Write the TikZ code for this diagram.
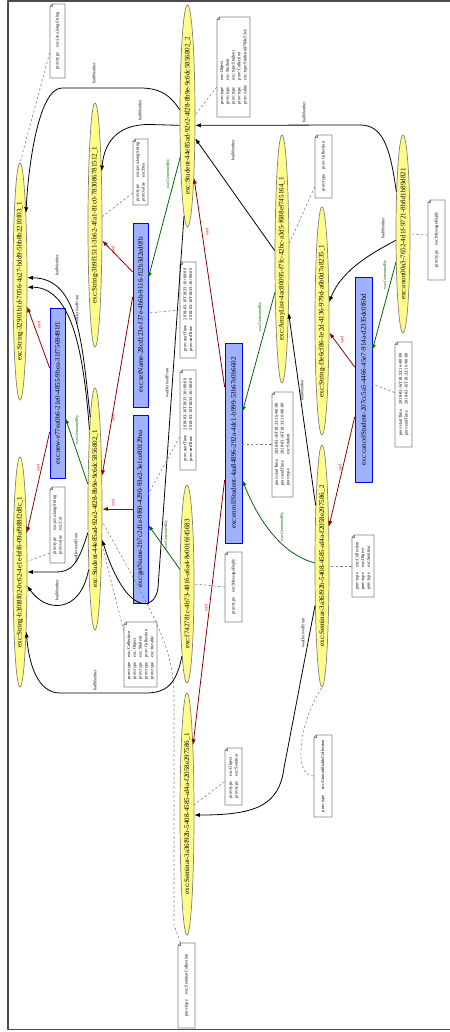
\documentclass[tikz,border=0pt]{standalone}
\usepackage{fontspec}
\setmainfont{Liberation Serif}
\usetikzlibrary{arrows.meta,calc,shapes.geometric,shapes.misc}

\definecolor{entfill}{HTML}{FFFC87}
\definecolor{actfill}{HTML}{9FB1FC}
\definecolor{usedcol}{HTML}{8B0000}
\definecolor{gencol}{HTML}{006400}

% rotated text, kept out of the node size
\newcommand{\vlab}[1]{\rotatebox{90}{\makebox[0pt]{#1}}}
\newcommand{\vnote}[1]{\rotatebox{90}{\makebox[0pt]{\begin{tabular}{@{}l@{\hspace{3pt}}l@{}}#1\end{tabular}}}}
\newcommand{\tstamp}{2018-03-16T18:33:16+00:00}

\begin{document}
\begin{tikzpicture}[x=0.02cm,y=-0.02cm,line join=round,
  sz/.style 2 args={minimum width=#1*0.02cm,minimum height=#2*0.02cm},
  ent/.style={ellipse,draw=gray,fill=entfill,inner sep=0pt,font=\fontsize{4}{5}\selectfont},
  act/.style={rectangle,draw=blue,fill=actfill,inner sep=0pt,font=\fontsize{4}{5}\selectfont},
  note/.style={chamfered rectangle,chamfered rectangle corners=north west,
    chamfered rectangle sep=1.4pt,draw=gray,fill=white,inner sep=0pt,
    font=\fontsize{2.5}{3.3}\selectfont},
  mem/.style={draw=black,line width=0.45pt,-{Latex[length=3.2pt,width=2.4pt]}},
  usd/.style={mem,draw=usedcol},
  gen/.style={mem,draw=gencol},
  ann/.style={draw=gray,line width=0.35pt,dash pattern=on 1.3pt off 1.3pt},
  lbl/.style={rotate=90,inner sep=0pt,font=\fontsize{2.4}{3}\selectfont},
  lu/.style={lbl,text=red},
  lg/.style={lbl,text=gencol}]
  \useasboundingbox (0,0) rectangle (450,1032);
  \draw[gray!60!black,line width=0.9pt] (8,0.8) rectangle (470,1029.5);

  % entities
  \node[ent,sz={14}{237}] (E1) at (20,281.5) {\vlab{exc:String-32901b1d-7056-4a27-bdd9-5bb8b2210f03\_1}};
  \node[ent,sz={14}{230}] (E2) at (20,572) {\vlab{exc:String-b3f08f02-0c62-4e1e-bff6-09af988f2d8c\_1}};
  \node[ent,sz={14}{244}] (E3) at (95,225) {\vlab{exc:String-3b9f1511-3b62-4fa1-81c0-783086781512\_1}};
  \node[ent,sz={14}{242}] (E4) at (95,509) {\vlab{exc:Student-44e85ad-92e2-4f28-8b9e-9c6dc5856802\_1}};
  \node[ent,sz={15}{222}] (E5) at (187.5,116) {\vlab{exc:Student-44e85ad-92e2-4f28-8b9e-9c6dc5856802\_2}};
  \node[ent,sz={14}{248}] (E6) at (282,259) {\vlab{exc:ArrayList-4ac80095-f7fc-42bc-a3d5-f688ef745164\_1}};
  \node[ent,sz={14}{198}] (E7) at (403,234) {\vlab{exc:anon00a3-7652-4d1f-9721-8b8d1b89d821}};
  \node[ent,sz={14}{228}] (E8) at (322,321) {\vlab{exc:String-f3e6cf86-1e2d-4136-979d-a6b0d7a8235\_1}};
  \node[ent,sz={14}{242}] (E9) at (322,566) {\vlab{exc:Seminar-3a36f92b-5408-4585-af4a-f2058e297586\_2}};
  \node[ent,sz={14}{198}] (E10) at (187,584) {\vlab{exc:f742781c-4b73-4816-a6a4-8e0016f45683}};
  \node[ent,sz={14}{242}] (E11) at (187,814) {\vlab{exc:Seminar-3a36f92b-5408-4585-af4a-f2058e297586\_1}};

  % activities
  \node[act,sz={15}{170}] (B1) at (57.5,393) {\vlab{exc:new-e77ea0b6-21e0-4855-9bea-31f7569491f1}};
  \node[act,sz={15}{184}] (B2) at (140.5,315) {\vlab{exc:setName-28cd123e-f37e-4b6b-9116-f12b3d2ed0fb}};
  \node[act,sz={15}{188}] (B3) at (140.5,509) {\vlab{exc:getName-2b7c2d1e-9f60-4290-93e2-3e1ce80129ea}};
  \node[act,sz={17}{200}] (B4) at (233.5,443) {\vlab{exc:enrollStudent-4aa84896-292a-4dc1-b999-53b67e0b6602}};
  \node[act,sz={17}{205}] (B5) at (363.5,379.5) {\vlab{exc:cancelStudent-207cc5a5-4466-45e7-914a-d2335dc0f6bd}};

  % annotations
  \node[note,sz={15}{74}] (N1) at (57.5,41) {\vnote{prov:type & exc:java.lang.String}};
  \node[note,sz={15}{66}] (N2) at (140.5,172) {\vnote{prov:type & exc:java.lang.String\\ prov:value & exc:Bea}};
  \node[note,sz={33}{100}] (N3) at (233.5,67) {\vnote{prov:type & exc:Object\\ prov:type & exc:Student\\ prov:type & exc:type:Student\\ prov:type & prov:Collection\\ prov:value & exc:type:Student@784e55ee}};
  \node[note,sz={17}{63}] (N4) at (323.5,166.5) {\vnote{prov:type & prov:Collection}};
  \node[note,sz={17}{80}] (N5) at (436.5,240) {\vnote{prov:type & exc:MessageReply}};
  \node[note,sz={16}{96}] (N6a) at (188,310) {\vnote{prov:startTime & \tstamp\\ prov:endTime & \tstamp}};
  \node[note,sz={16}{100}] (N6b) at (188,420) {\vnote{prov:startTime & \tstamp\\ prov:endTime & \tstamp}};
  \node[note,sz={21}{105}] (N7) at (282.5,444.5) {\vnote{prov:startTime & \tstamp\\ prov:endTime & \tstamp\\ prov:type & exc:Student}};
  \node[note,sz={17}{105}] (N8) at (403.5,394.5) {\vnote{prov:startTime & \tstamp\\ prov:endTime & \tstamp}};
  \node[note,sz={17}{70}] (N9) at (233.5,587) {\vnote{prov:type & exc:MessageReply}};
  \node[note,sz={22}{62}] (N10) at (363,566) {\vnote{prov:type & exc:Collection\\ prov:type & exc:Object\\ prov:type & exc:Seminar}};
  \node[note,sz={18}{82}] (N11) at (323,776) {\vnote{prov:type & exc:UnmodifiableCollection}};
  \node[note,sz={17}{85}] (N12) at (186.5,985.5) {\vnote{prov:type & exc:SeminarCollection}};
  \node[note,sz={33}{65}] (N13) at (140.5,654.5) {\vnote{prov:type & exc:Collection\\ prov:type & exc:Object\\ prov:type & exc:Student\\ prov:type & prov:Collection\\ prov:type & exc:Iterable}};
  \node[note,sz={15}{76}] (N14) at (57.5,525) {\vnote{prov:type & exc:java.lang.String\\ prov:value & exc:Cal}};
  \node[note,sz={17}{57}] (N15) at (233.5,776.5) {\vnote{prov:type & exc:Object\\ prov:type & exc:Seminar}};
  % folded corners
  \foreach \nn in {N1,N2,N3,N4,N5,N6a,N6b,N7,N8,N9,N10,N11,N12,N13,N14,N15}
    \draw[gray,line width=0.3pt] ($(\nn.west |- \nn.north)+(2.5,0)$) -- ++(0,2.5) -- ++(-2.5,0);

  % hadMember / wasDerivedFrom
  \draw[mem] (E5.141) .. controls (170,95) and (160,88) .. (140,88) -- (62,88) .. controls (38,88) and (28,170) .. (E1.85);
  \draw[mem] (E5.230) -- (150,124.5) .. controls (115,124) and (104,145) .. (E3.83);
  \draw[mem] (E7.99) .. controls (390,145) and (382,125) .. (360,125) -- (E5.310);
  \draw[mem] (E6.131) -- (E5.289);
  \draw[mem] (E7.221) .. controls (378,250) and (342,268) .. (E8.69);
  \draw[mem] (E9.96) -- (E6.277);
  \draw[mem] (E5.268) -- (158,588) .. controls (155,612) and (126,616) .. (E4.283);
  \draw[mem] (E4.93) .. controls (82,340) and (78,278) .. (E1.27);
  \draw[mem] (E4.94) .. controls (84,360) and (74,287) .. (E1.322);
  \draw[mem] (E4.253) .. controls (78,566) and (70,572) .. (56,572) -- (E2.east);
  \draw[mem] (E4.264) .. controls (80,615) and (45,612) .. (E2.298);
  \draw[mem] (E10.266) .. controls (176,686) and (165,693) .. (145,693) -- (60,693) .. controls (38,693) and (29,665) .. (E2.276);
  \draw[mem] (E9.260) -- (284,768) .. controls (279,806) and (255,815) .. (E11.352);

  % used
  \draw[usd] ($(B5.west)+(0,-12.5)$) -- (E8.302);
  \draw[usd] ($(B5.west)+(0,37.5)$) -- (E9.80);
  \draw[usd] ($(B4.west)+(0,-56)$) -- (E5.276);
  \draw[usd] ($(B4.west)+(0,37)$) -- (E11.85);
  \draw[usd] ($(B2.west)+(0,-18)$) -- (E4.78);
  \draw[usd] ($(B2.west)+(0,-43)$) -- (E3.295);
  \draw[usd] (B3.west) -- (E4.east);
  \draw[usd] ($(B1.west)+(0,-25)$) -- (E1.286);
  \draw[usd] ($(B1.west)+(0,39)$) -- (E2.80);

  % wasGeneratedBy
  \draw[gen] (E7.256) -- ($(B5.east)+(0,-29.5)$);
  \draw[gen] (E6.258) -- ($(B4.east)+(0,-31)$);
  \draw[gen] (E9.157) .. controls (288,556) and (262,530) .. ($(B4.east)+(0,37)$);
  \draw[gen] (E5.260) -- ($(B2.east)+(0,-37)$);
  \draw[gen] (E10.116) -- ($(B3.east)+(0,16)$);
  \draw[gen] (E4.106) -- ($(B1.east)+(0,25)$);

  % annotation links
  \draw[ann] ($(N1.west)+(0,12)$) -- (E1.north);
  \draw[ann] ($(N2.west)+(0,21)$) -- (E3.49);
  \draw[ann] ($(N3.west)+(0,20)$) -- (E5.8);
  \draw[ann] ($(N4.west)+(0,20.5)$) -- (E6.65);
  \draw[ann] ($(N5.west)+(0,-5)$) -- (E7.east);
  \draw[ann] (N6a.west) -- ($(B2.east)+(0,-2)$);
  \draw[ann] ($(N6b.west)+(0,17)$) -- ($(B3.east)+(0,-15)$);
  \draw[ann] (N7.west) -- ($(B4.east)+(0,1.5)$);
  \draw[ann] ($(N8.west)+(0,-2)$) -- ($(B5.east)+(0,4.5)$);
  \draw[ann] (N9.west) -- (E10.east);
  \draw[ann] (N10.west) -- (E9.east);
  \draw[ann] (N11.west) .. controls (292,776) and (300,720) .. (E9.south);
  \draw[ann] ($(N12.north)+(-6,0)$) -- (174,925) -- (174,700) .. controls (174,650) and (160,625) .. (E4.300);
  \draw[ann] ($(N13.west)+(0,-24)$) -- (E4.281);
  \draw[ann] ($(N14.west)+(0,28)$) -- (E2.55);
  \draw[ann] ($(N15.west)+(0,5)$) -- (E11.52);

  % edge labels
  \node[lbl] (l1) at (94,73) {hadMember};
  \node[lbl] (l2) at (140,110) {hadMember};
  \node[lbl] (l3) at (304,112) {hadMember};
  \node[lbl] (l4) at (233,150) {hadMember};
  \node[lbl] (l5) at (383,228) {hadMember};
  \node[lbl] (l6) at (302,390) {hadMember};
  \node[lbl] (l7) at (57,265) {hadMember};
  \node[lbl] (l8) at (77,310) {wasDerivedFrom};
  \node[lbl] (l9) at (76,548) {wasDerivedFrom};
  \node[lbl] (l10) at (57,590) {hadMember};
  \node[lbl] (l11) at (95,680) {hadMember};
  \node[lbl] (l12) at (167,383) {wasDerivedFrom};
  \node[lbl] (l13) at (303,633) {wasDerivedFrom};
  \node[lu] (l14) at (342,340) {used};
  \node[lu] (l15) at (340,468) {used};
  \node[lu] (l16) at (207,232) {used};
  \node[lu] (l17) at (206,608) {used};
  \node[lu] (l18) at (113,418) {used};
  \node[lu] (l19) at (113,250) {used};
  \node[lu] (l20) at (113,503) {used};
  \node[lu] (l21) at (39,325) {used};
  \node[lu] (l22) at (38,468) {used};
  \node[lg] (l23) at (385,275) {wasGeneratedBy};
  \node[lg] (l24) at (260,317) {wasGeneratedBy};
  \node[lg] (l25) at (282,527) {wasGeneratedBy};
  \node[lg] (l26) at (168,174) {wasGeneratedBy};
  \node[lg] (l27) at (166,535) {wasGeneratedBy};
  \node[lg] (l28) at (77,430) {wasGeneratedBy};
\end{tikzpicture}
\end{document}
